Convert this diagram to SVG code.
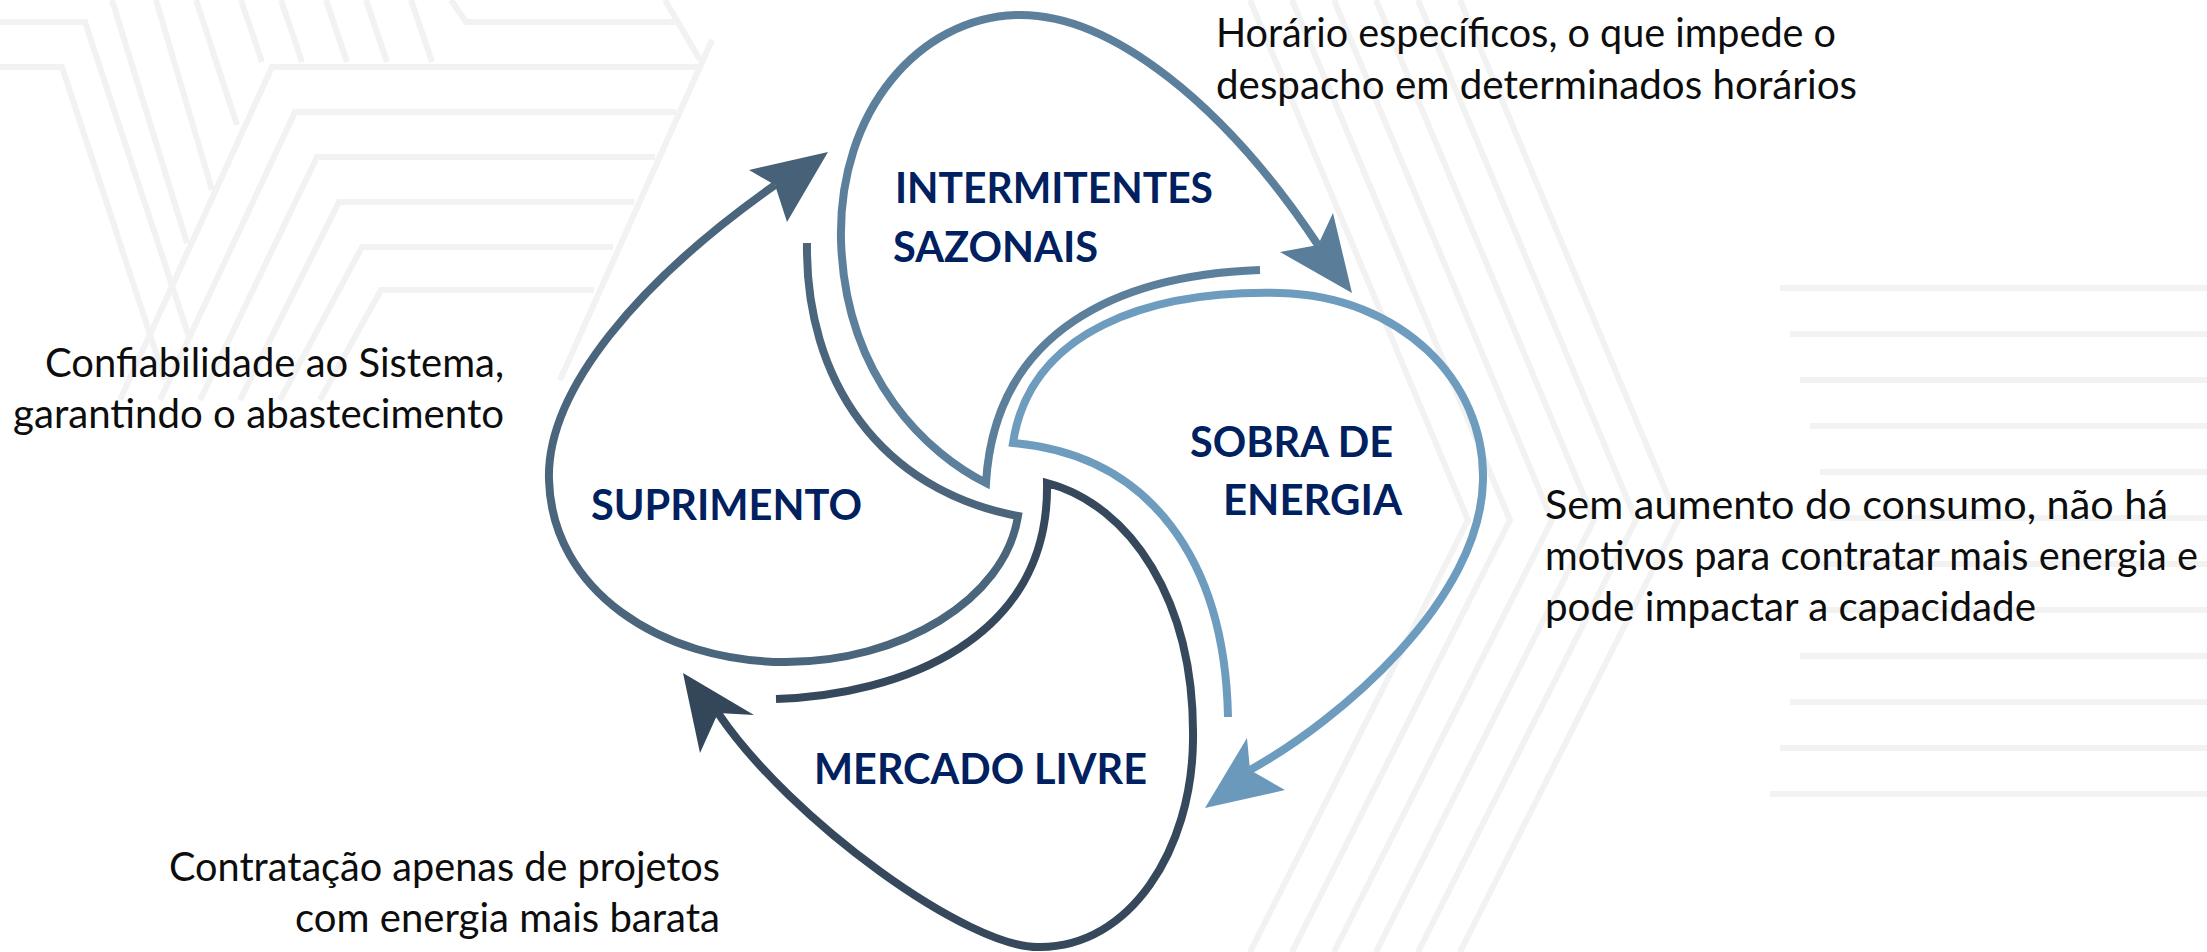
<svg xmlns="http://www.w3.org/2000/svg" width="2207" height="952" viewBox="0 0 2207 952">
  <style>
    .bg { fill: none; stroke: #f2f2f2; stroke-width: 6; stroke-linejoin: miter; }
    .loop { fill: none; stroke-width: 8; stroke-linejoin: miter; stroke-miterlimit: 20; }
    .lbl { font-family: Lato, "Open Sans", sans-serif; font-weight: 700; font-size: 42.5px; fill: #002060; }
    .desc { font-family: Lato, "Open Sans", sans-serif; font-weight: 400; font-size: 40px; fill: #0d0d0d; }
    .c1 { stroke: #5c809c; } .f1 { fill: #5a7e9a; }
    .c2 { stroke: #4a657c; } .f2 { fill: #466178; }
    .c3 { stroke: #6e9cbe; } .f3 { fill: #6a99bb; }
    .c4 { stroke: #36495c; } .f4 { fill: #34475a; }
  </style>
  <rect width="2207" height="952" fill="#ffffff"/>

  <g id="background">
    <!-- top-left motif -->
    <polyline class="bg" points="0,22 85,22 190,340"/>
    <polyline class="bg" points="0,67 62,67 165,380"/>
    <polyline class="bg" points="112,0 187,243"/>
    <polyline class="bg" points="156,0 212,190"/>
    <polyline class="bg" points="196,0 237,125"/>
    <polyline class="bg" points="241,0 262,62"/>
    <polyline class="bg" points="120,400 272,67 700,67"/>
    <polyline class="bg" points="160,400 295,112 676,112"/>
    <polyline class="bg" points="200,400 317,157 655,157"/>
    <polyline class="bg" points="240,400 339,202 634,202"/>
    <polyline class="bg" points="280,400 362,247 613,247"/>
    <polyline class="bg" points="320,400 381,290 594,290"/>
    <polyline class="bg" points="712,40 560,380"/>
    <polyline class="bg" points="281,0 302,62"/>
    <polyline class="bg" points="326,0 347,62"/>
    <polyline class="bg" points="366,0 387,62"/>
    <polyline class="bg" points="411,0 432,62"/>
    <polyline class="bg" points="451,0 466,22 680,22"/>
    <polyline class="bg" points="665,0 700,60"/>
    <!-- right chevrons -->
    <polyline class="bg" points="1250,0 1468,520 1250,952"/>
    <polyline class="bg" points="1292,0 1510,520 1292,952"/>
    <polyline class="bg" points="1334,0 1552,520 1334,952"/>
    <polyline class="bg" points="1376,0 1594,520 1376,952"/>
    <polyline class="bg" points="1418,0 1636,520 1418,952"/>
    <polyline class="bg" points="1460,0 1678,520 1460,952"/>
    <!-- right horizontal stripes -->
    <line class="bg" x1="1780" y1="288" x2="2207" y2="288"/>
    <line class="bg" x1="1790" y1="334" x2="2207" y2="334"/>
    <line class="bg" x1="1800" y1="380" x2="2207" y2="380"/>
    <line class="bg" x1="1810" y1="426" x2="2207" y2="426"/>
    <line class="bg" x1="1820" y1="472" x2="2207" y2="472"/>
    <line class="bg" x1="1830" y1="518" x2="2207" y2="518"/>
    <line class="bg" x1="1820" y1="564" x2="2207" y2="564"/>
    <line class="bg" x1="1810" y1="610" x2="2207" y2="610"/>
    <line class="bg" x1="1800" y1="656" x2="2207" y2="656"/>
    <line class="bg" x1="1790" y1="702" x2="2207" y2="702"/>
    <line class="bg" x1="1780" y1="748" x2="2207" y2="748"/>
    <line class="bg" x1="1770" y1="794" x2="2207" y2="794"/>
  </g>

  <g id="connectors">
    <!-- Intermitentes loop -->
    <path class="loop c1" d="M1260,270 C1120,275 995,330 986,483 C930,455 845,380 841,240 C838,110 920,18 1016,15 C1110,12 1225,105 1318,245"/>
    <polygon class="f1" points="1352,293 1333,213 1318,245 1280,252"/>
    <!-- Suprimento loop -->
    <path class="loop c2" d="M807,243 C805,380 880,490 1018,516 C1005,600 900,662 786,662 C660,662 552,590 549,480 C546,390 640,280 775,185"/>
    <polygon class="f2" points="828,152 749,170 775,185 787,222"/>
    <!-- Sobra de energia loop -->
    <path class="loop c3" d="M1228,717 C1225,560 1150,455 1013,443 C1030,330 1150,290 1280,293 C1400,296 1485,380 1483,480 C1481,600 1340,720 1250,770"/>
    <polygon class="f3" points="1205,808 1247,738 1250,770 1285,790"/>
    <!-- Mercado livre loop -->
    <path class="loop c4" d="M776,699 C900,695 1050,640 1047,483 C1130,505 1195,600 1193,740 C1192,850 1130,947 1040,947 C970,950 790,820 718,713"/>
    <polygon class="f4" points="683,673 754,715 718,713 700,753"/>
  </g>

  <g id="node-intermitentes">
    <text class="lbl" x="895" y="203" textLength="318" lengthAdjust="spacingAndGlyphs">INTERMITENTES</text>
    <text class="lbl" x="893" y="262" textLength="205" lengthAdjust="spacingAndGlyphs">SAZONAIS</text>
  </g>
  <g id="node-sobra">
    <text class="lbl" x="1190" y="457" textLength="203" lengthAdjust="spacingAndGlyphs">SOBRA DE</text>
    <text class="lbl" x="1223" y="515" textLength="179" lengthAdjust="spacingAndGlyphs">ENERGIA</text>
  </g>
  <g id="node-suprimento">
    <text class="lbl" x="591" y="520" textLength="271" lengthAdjust="spacingAndGlyphs">SUPRIMENTO</text>
  </g>
  <g id="node-mercado">
    <text class="lbl" x="814" y="784" textLength="333" lengthAdjust="spacingAndGlyphs">MERCADO LIVRE</text>
  </g>

  <g id="note-horario">
    <text class="desc" x="1216" y="47" textLength="620" lengthAdjust="spacingAndGlyphs">Horário específicos, o que impede o</text>
    <text class="desc" x="1216" y="99" textLength="641" lengthAdjust="spacingAndGlyphs">despacho em determinados horários</text>
  </g>
  <g id="note-confiabilidade">
    <text class="desc" x="45" y="377" textLength="459" lengthAdjust="spacingAndGlyphs">Confiabilidade ao Sistema,</text>
    <text class="desc" x="13" y="428" textLength="491" lengthAdjust="spacingAndGlyphs">garantindo o abastecimento</text>
  </g>
  <g id="note-sem-aumento">
    <text class="desc" x="1545" y="519" textLength="623" lengthAdjust="spacingAndGlyphs">Sem aumento do consumo, não há</text>
    <text class="desc" x="1545" y="570" textLength="653" lengthAdjust="spacingAndGlyphs">motivos para contratar mais energia e</text>
    <text class="desc" x="1545" y="621" textLength="491" lengthAdjust="spacingAndGlyphs">pode impactar a capacidade</text>
  </g>
  <g id="note-contratacao">
    <text class="desc" x="169" y="881" textLength="551" lengthAdjust="spacingAndGlyphs">Contratação apenas de projetos</text>
    <text class="desc" x="295" y="932" textLength="425" lengthAdjust="spacingAndGlyphs">com energia mais barata</text>
  </g>
</svg>
